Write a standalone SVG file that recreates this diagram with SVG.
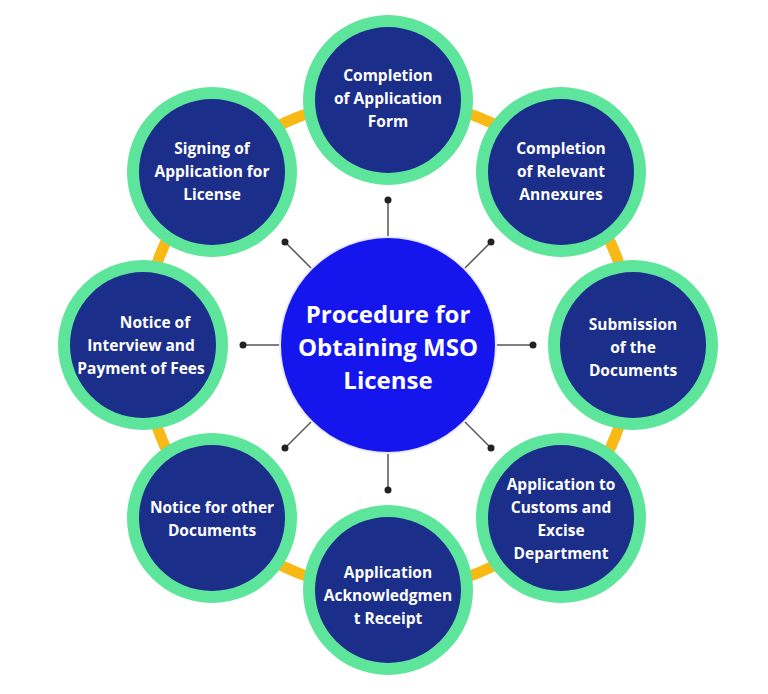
<svg xmlns="http://www.w3.org/2000/svg" width="768" height="694" viewBox="0 0 768 694">
<style>
.ring{fill:none;stroke:#f9b914;stroke-width:11}
.nb{fill:#5de59b}
.ni{fill:#1b2e8a}
.t{font-family:"Open Sans",sans-serif;font-weight:bold;font-size:15.5px;fill:#fff;text-anchor:middle}
.c{font-family:"Open Sans",sans-serif;font-weight:bold;font-size:24px;fill:#fff;text-anchor:middle}
.ln{stroke:#555;stroke-width:1.5}
.dot{fill:#222}
</style>
<rect width="768" height="694" fill="#fff"/>
<circle class="ring" cx="388" cy="345" r="245"/>
<g id="connectors">
<line class="ln" x1="388" y1="237" x2="388" y2="200"/><circle class="dot" cx="388" cy="200" r="3.5"/>
<line class="ln" x1="464" y1="269" x2="491" y2="242"/><circle class="dot" cx="491" cy="242" r="3.5"/>
<line class="ln" x1="496" y1="345" x2="533" y2="345"/><circle class="dot" cx="533" cy="345" r="3.5"/>
<line class="ln" x1="464" y1="421" x2="491" y2="448"/><circle class="dot" cx="491" cy="448" r="3.5"/>
<line class="ln" x1="388" y1="453" x2="388" y2="490"/><circle class="dot" cx="388" cy="490" r="3.5"/>
<line class="ln" x1="312" y1="421" x2="285" y2="448"/><circle class="dot" cx="285" cy="448" r="3.5"/>
<line class="ln" x1="280" y1="345" x2="243" y2="345"/><circle class="dot" cx="243" cy="345" r="3.5"/>
<line class="ln" x1="312" y1="269" x2="285" y2="242"/><circle class="dot" cx="285" cy="242" r="3.5"/>
</g>
<g id="center">
<circle cx="388" cy="345" r="108" fill="#1515ee" stroke="#e8ebff" stroke-width="2"/>
<text class="c" x="388" y="323">Procedure for</text>
<text class="c" x="388" y="356">Obtaining MSO</text>
<text class="c" x="388" y="389">License</text>
</g>
<g id="n1"><circle class="nb" cx="388" cy="100" r="85"/><circle class="ni" cx="388" cy="100" r="73"/>
<text class="t" x="388" y="81">Completion</text><text class="t" x="388" y="104">of Application</text><text class="t" x="388" y="127">Form</text></g>
<g id="n2"><circle class="nb" cx="561" cy="172" r="85"/><circle class="ni" cx="561" cy="172" r="73"/>
<text class="t" x="561" y="154">Completion</text><text class="t" x="561" y="177">of Relevant</text><text class="t" x="561" y="200">Annexures</text></g>
<g id="n3"><circle class="nb" cx="633" cy="345" r="85"/><circle class="ni" cx="633" cy="345" r="73"/>
<text class="t" x="633" y="330">Submission</text><text class="t" x="633" y="353">of the</text><text class="t" x="633" y="376">Documents</text></g>
<g id="n4"><circle class="nb" cx="561" cy="518" r="85"/><circle class="ni" cx="561" cy="518" r="73"/>
<text class="t" x="561" y="490">Application to</text><text class="t" x="561" y="513">Customs and</text><text class="t" x="561" y="536">Excise</text><text class="t" x="561" y="559">Department</text></g>
<g id="n5"><circle class="nb" cx="388" cy="590" r="85"/><circle class="ni" cx="388" cy="590" r="73"/>
<text class="t" x="388" y="578">Application</text><text class="t" x="388" y="601">Acknowledgmen</text><text class="t" x="388" y="624">t Receipt</text></g>
<g id="n6"><circle class="nb" cx="212" cy="518" r="85"/><circle class="ni" cx="212" cy="518" r="73"/>
<text class="t" x="212" y="513">Notice for other</text><text class="t" x="212" y="536">Documents</text></g>
<g id="n7"><circle class="nb" cx="143" cy="345" r="85"/><circle class="ni" cx="143" cy="345" r="73"/>
<text class="t" x="155" y="328">Notice of</text><text class="t" x="141" y="351">Interview and</text><text class="t" x="141" y="374">Payment of Fees</text></g>
<g id="n8"><circle class="nb" cx="212" cy="172" r="85"/><circle class="ni" cx="212" cy="172" r="73"/>
<text class="t" x="212" y="154">Signing of</text><text class="t" x="212" y="177">Application for</text><text class="t" x="212" y="200">License</text></g>
</svg>
